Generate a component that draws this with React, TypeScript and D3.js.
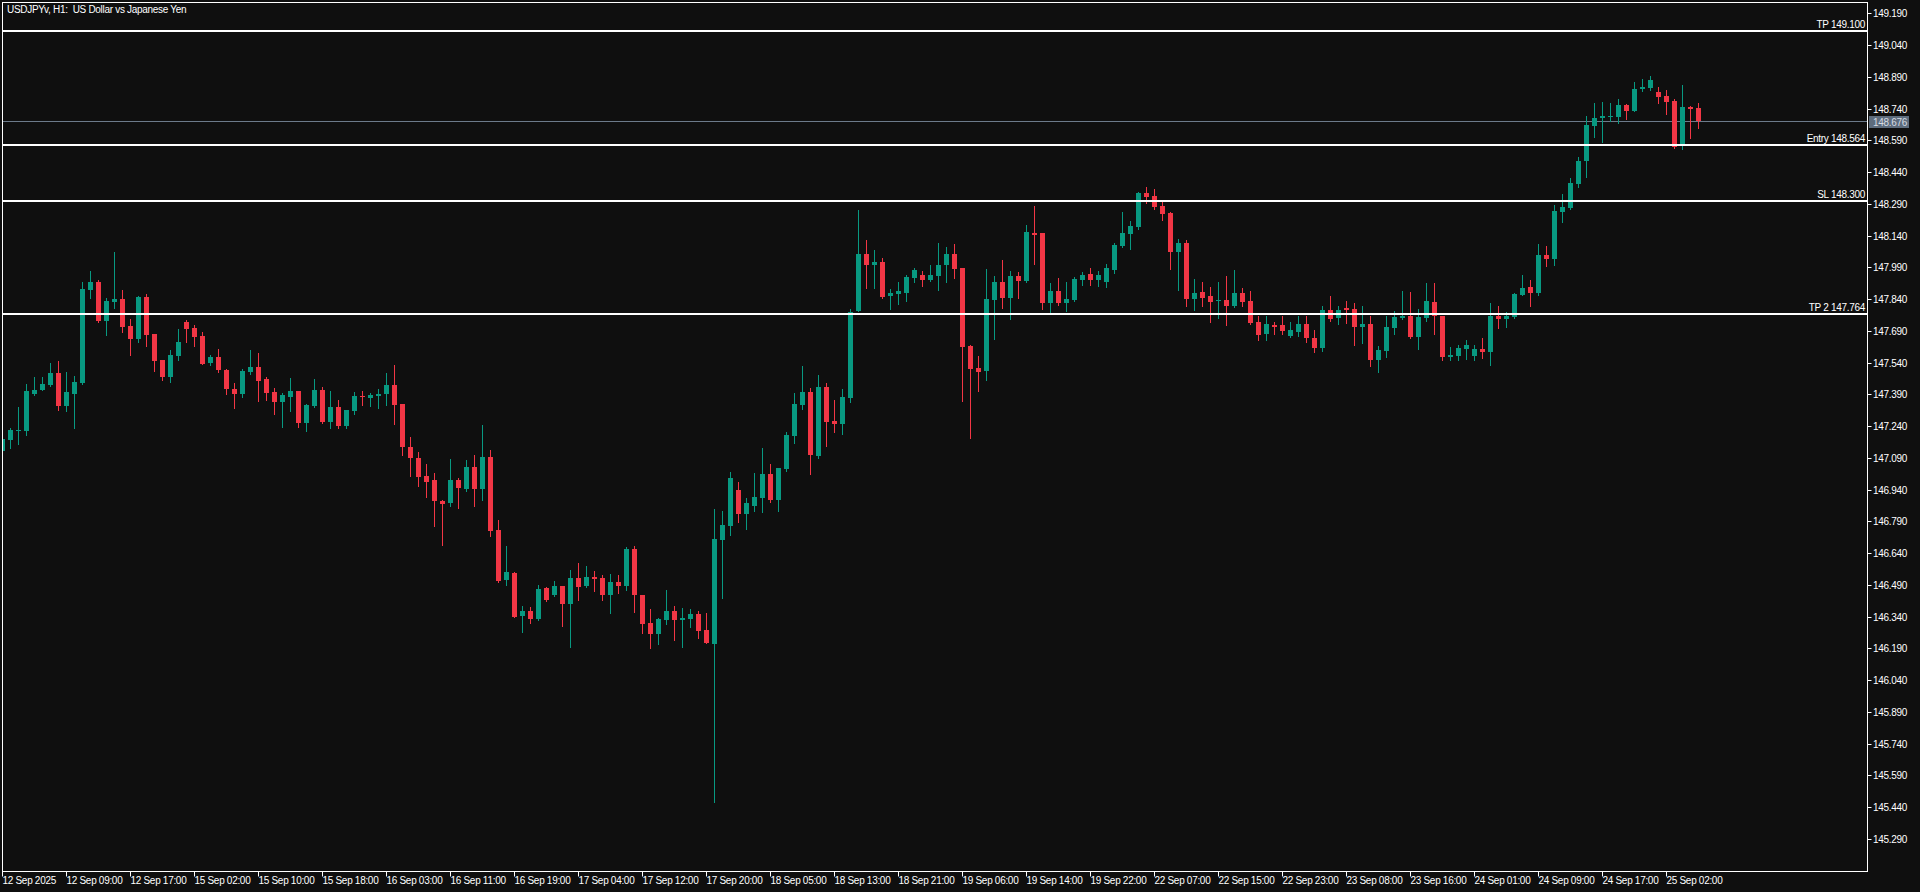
import * as d3 from "d3";
import { useEffect } from "react";

const W = 1920;
const H = 892;

const symbolTitle = "USDJPYv, H1:\u00a0 US Dollar vs Japanese Yen";

// hourly bars, [open, high, low, close]
const candles = [
  [147.117, 147.193, 147.112, 147.174], [147.169, 147.226, 147.131, 147.216], [147.212, 147.325, 147.150, 147.216], [147.212, 147.434, 147.193, 147.401],
  [147.387, 147.467, 147.382, 147.406], [147.406, 147.467, 147.404, 147.434], [147.429, 147.533, 147.427, 147.486], [147.486, 147.543, 147.311, 147.330],
  [147.330, 147.491, 147.306, 147.396], [147.387, 147.472, 147.226, 147.444], [147.439, 147.916, 147.434, 147.883], [147.878, 147.968, 147.840, 147.916],
  [147.916, 147.925, 147.727, 147.732], [147.732, 147.840, 147.666, 147.826], [147.822, 148.057, 147.793, 147.836], [147.836, 147.878, 147.680, 147.704],
  [147.708, 147.741, 147.571, 147.647], [147.647, 147.850, 147.633, 147.845], [147.845, 147.859, 147.614, 147.666], [147.670, 147.672, 147.495, 147.543],
  [147.548, 147.550, 147.453, 147.467], [147.467, 147.595, 147.444, 147.571], [147.567, 147.694, 147.548, 147.633], [147.727, 147.736, 147.633, 147.694],
  [147.699, 147.713, 147.614, 147.656], [147.661, 147.680, 147.527, 147.529], [147.533, 147.571, 147.524, 147.562], [147.562, 147.600, 147.491, 147.500],
  [147.500, 147.505, 147.387, 147.411], [147.411, 147.439, 147.320, 147.387], [147.387, 147.505, 147.373, 147.495], [147.491, 147.595, 147.481, 147.514],
  [147.514, 147.581, 147.353, 147.448], [147.458, 147.467, 147.358, 147.392], [147.396, 147.415, 147.292, 147.349], [147.349, 147.392, 147.231, 147.382],
  [147.373, 147.462, 147.306, 147.401], [147.401, 147.403, 147.231, 147.249], [147.249, 147.339, 147.212, 147.334], [147.330, 147.458, 147.328, 147.406],
  [147.406, 147.420, 147.249, 147.254], [147.254, 147.401, 147.226, 147.325], [147.325, 147.358, 147.226, 147.235], [147.235, 147.313, 147.226, 147.311],
  [147.306, 147.396, 147.292, 147.377], [147.377, 147.401, 147.334, 147.373], [147.368, 147.392, 147.330, 147.382], [147.377, 147.411, 147.320, 147.387],
  [147.387, 147.486, 147.334, 147.429], [147.429, 147.524, 147.245, 147.334], [147.339, 147.341, 147.098, 147.136], [147.136, 147.183, 146.999, 147.084],
  [147.084, 147.112, 146.952, 146.994], [146.999, 147.056, 146.900, 146.971], [146.980, 147.013, 146.763, 146.881], [146.881, 146.886, 146.673, 146.867],
  [146.872, 147.079, 146.858, 146.980], [146.980, 146.990, 146.848, 146.942], [146.938, 147.075, 146.928, 147.042], [147.042, 147.098, 146.858, 146.938],
  [146.938, 147.240, 146.886, 147.089], [147.089, 147.122, 146.716, 146.740], [146.744, 146.791, 146.501, 146.503], [146.508, 146.669, 146.484, 146.546],
  [146.541, 146.546, 146.332, 146.334], [146.338, 146.386, 146.263, 146.362], [146.362, 146.381, 146.305, 146.324], [146.324, 146.484, 146.322, 146.466],
  [146.470, 146.475, 146.409, 146.414], [146.437, 146.503, 146.435, 146.480], [146.480, 146.482, 146.291, 146.395], [146.395, 146.555, 146.192, 146.518],
  [146.518, 146.588, 146.414, 146.475], [146.480, 146.574, 146.475, 146.522], [146.522, 146.551, 146.456, 146.513], [146.518, 146.532, 146.414, 146.437],
  [146.437, 146.537, 146.352, 146.499], [146.499, 146.532, 146.447, 146.480], [146.480, 146.664, 146.461, 146.655], [146.655, 146.669, 146.357, 146.437],
  [146.437, 146.440, 146.258, 146.300], [146.305, 146.371, 146.187, 146.253], [146.253, 146.329, 146.206, 146.324], [146.319, 146.461, 146.300, 146.362],
  [146.362, 146.386, 146.225, 146.319], [146.319, 146.376, 146.192, 146.329], [146.324, 146.371, 146.286, 146.348], [146.348, 146.362, 146.234, 146.267],
  [146.272, 146.352, 146.209, 146.211], [146.206, 146.844, 145.460, 146.702], [146.697, 146.834, 146.423, 146.768], [146.763, 147.018, 146.721, 146.990],
  [146.933, 146.971, 146.782, 146.820], [146.820, 146.895, 146.749, 146.872], [146.858, 147.013, 146.834, 146.900], [146.895, 147.131, 146.829, 147.009],
  [147.009, 147.056, 146.877, 146.886], [146.886, 147.040, 146.834, 147.037], [147.032, 147.207, 147.023, 147.193], [147.188, 147.392, 147.155, 147.339],
  [147.334, 147.519, 147.316, 147.396], [147.396, 147.415, 147.009, 147.098], [147.094, 147.477, 147.084, 147.420], [147.420, 147.439, 147.141, 147.254],
  [147.259, 147.358, 147.207, 147.245], [147.245, 147.411, 147.198, 147.373], [147.368, 147.788, 147.349, 147.774], [147.779, 148.256, 147.777, 148.048],
  [148.048, 148.114, 147.887, 147.996], [147.996, 148.067, 147.887, 148.010], [148.010, 148.029, 147.840, 147.845], [147.850, 147.883, 147.788, 147.864],
  [147.859, 147.916, 147.812, 147.873], [147.864, 147.949, 147.826, 147.940], [147.935, 147.982, 147.916, 147.973], [147.949, 147.968, 147.897, 147.925],
  [147.925, 147.996, 147.921, 147.949], [147.944, 148.100, 147.878, 147.996], [147.996, 148.081, 147.916, 148.048], [148.048, 148.095, 147.935, 147.977],
  [147.982, 147.984, 147.353, 147.609], [147.614, 147.619, 147.179, 147.505], [147.510, 147.567, 147.401, 147.491], [147.495, 147.977, 147.453, 147.836],
  [147.831, 147.944, 147.647, 147.916], [147.916, 148.020, 147.793, 147.840], [147.840, 147.968, 147.741, 147.944], [147.944, 147.963, 147.840, 147.921],
  [147.921, 148.185, 147.916, 148.152], [148.147, 148.275, 148.001, 148.138], [148.147, 148.150, 147.788, 147.817], [147.817, 147.911, 147.774, 147.873],
  [147.873, 147.935, 147.807, 147.817], [147.817, 147.916, 147.779, 147.836], [147.831, 147.940, 147.826, 147.930], [147.925, 147.963, 147.902, 147.949],
  [147.954, 147.982, 147.902, 147.925], [147.925, 147.968, 147.897, 147.949], [147.916, 148.001, 147.892, 147.982], [147.973, 148.100, 147.959, 148.090],
  [148.086, 148.246, 148.084, 148.147], [148.142, 148.204, 148.071, 148.180], [148.175, 148.341, 148.166, 148.336], [148.336, 148.365, 148.289, 148.317],
  [148.322, 148.355, 148.260, 148.270], [148.275, 148.298, 148.209, 148.237], [148.242, 148.246, 147.977, 148.057], [148.057, 148.119, 147.878, 148.100],
  [148.100, 148.114, 147.803, 147.836], [147.836, 147.930, 147.784, 147.864], [147.869, 147.916, 147.803, 147.840], [147.850, 147.892, 147.727, 147.822],
  [147.826, 147.916, 147.746, 147.831], [147.831, 147.944, 147.713, 147.803], [147.803, 147.973, 147.798, 147.864], [147.864, 147.887, 147.803, 147.822],
  [147.826, 147.873, 147.718, 147.722], [147.727, 147.755, 147.642, 147.666], [147.670, 147.755, 147.642, 147.718], [147.713, 147.727, 147.670, 147.704],
  [147.713, 147.755, 147.670, 147.685], [147.661, 147.727, 147.656, 147.689], [147.680, 147.755, 147.661, 147.718], [147.718, 147.755, 147.633, 147.652],
  [147.652, 147.689, 147.585, 147.604], [147.604, 147.803, 147.590, 147.784], [147.784, 147.850, 147.732, 147.741], [147.746, 147.803, 147.718, 147.784],
  [147.793, 147.826, 147.722, 147.784], [147.788, 147.817, 147.619, 147.704], [147.704, 147.803, 147.628, 147.718], [147.718, 147.755, 147.519, 147.548],
  [147.548, 147.614, 147.491, 147.595], [147.590, 147.755, 147.562, 147.704], [147.699, 147.779, 147.670, 147.751], [147.746, 147.873, 147.741, 147.755],
  [147.755, 147.869, 147.652, 147.656], [147.656, 147.788, 147.600, 147.751], [147.746, 147.911, 147.732, 147.826], [147.822, 147.911, 147.670, 147.755],
  [147.755, 147.758, 147.548, 147.562], [147.562, 147.609, 147.548, 147.571], [147.567, 147.619, 147.548, 147.604], [147.600, 147.642, 147.552, 147.619],
  [147.567, 147.619, 147.548, 147.600], [147.600, 147.652, 147.557, 147.585], [147.585, 147.817, 147.524, 147.755], [147.755, 147.803, 147.699, 147.741],
  [147.741, 147.774, 147.704, 147.755], [147.751, 147.864, 147.746, 147.859], [147.855, 147.949, 147.853, 147.887], [147.892, 147.925, 147.803, 147.864],
  [147.864, 148.095, 147.855, 148.043], [148.043, 148.086, 147.992, 148.024], [148.024, 148.280, 147.996, 148.251], [148.246, 148.332, 148.199, 148.270],
  [148.265, 148.407, 148.263, 148.383], [148.379, 148.506, 148.365, 148.488], [148.488, 148.700, 148.412, 148.658], [148.653, 148.762, 148.601, 148.691],
  [148.691, 148.766, 148.577, 148.700], [148.696, 148.762, 148.677, 148.700], [148.696, 148.780, 148.667, 148.752], [148.752, 148.755, 148.686, 148.724],
  [148.724, 148.861, 148.722, 148.828], [148.828, 148.875, 148.818, 148.837], [148.832, 148.889, 148.823, 148.870], [148.813, 148.837, 148.762, 148.790],
  [148.795, 148.823, 148.710, 148.766], [148.771, 148.780, 148.549, 148.554], [148.568, 148.847, 148.544, 148.743], [148.743, 148.747, 148.596, 148.733],
  [148.738, 148.762, 148.643, 148.676],
];

// one label every 8 bars
const timeLabels = [
  "12 Sep 2025", "12 Sep 09:00", "12 Sep 17:00", "15 Sep 02:00", "15 Sep 10:00", "15 Sep 18:00", "16 Sep 03:00",
  "16 Sep 11:00", "16 Sep 19:00", "17 Sep 04:00", "17 Sep 12:00", "17 Sep 20:00", "18 Sep 05:00", "18 Sep 13:00",
  "18 Sep 21:00", "19 Sep 06:00", "19 Sep 14:00", "19 Sep 22:00", "22 Sep 07:00", "22 Sep 15:00", "22 Sep 23:00",
  "23 Sep 08:00", "23 Sep 16:00", "24 Sep 01:00", "24 Sep 09:00", "24 Sep 17:00", "25 Sep 02:00",
];
const labelStep = 8;

const levelNames = ["TP", "Entry", "SL", "TP 2"];
const levelPrices = [149.1, 148.564, 148.3, 147.764];
const bidPrice = 148.676;

const priceTicks = [
  149.19, 149.04, 148.89, 148.74, 148.59, 148.44, 148.29, 148.14, 147.99, 147.84, 147.69, 147.54, 147.39, 147.24,
  147.09, 146.94, 146.79, 146.64, 146.49, 146.34, 146.19, 146.04, 145.89, 145.74, 145.59, 145.44, 145.29,
];

const BG = "#0f0f0f";
const UP = "#089981";
const DOWN = "#f23645";
const FONT = "'Liberation Sans', Arial, sans-serif";

export default function App() {
  useEffect(() => {
    document.body.style.margin = "0";
    document.body.style.background = BG;
  }, []);

  const left = 2.5, top = 2.5, right = 1867.5, bottom = 871.5;

  const x = d3.scaleLinear().domain([0, 1]).range([2.5, 10.5]);
  const y = d3.scaleLinear().domain([145.134, 149.239]).range([871, 2]);
  const fmt = d3.format(".3f");

  const txt = { fontFamily: FONT, fontSize: 10, letterSpacing: "-0.3px" } as const;

  return (
    <svg width={W} height={H} style={{ display: "block", position: "absolute", left: 0, top: 0 }}>
      <defs>
        <clipPath id="plot">
          <rect x={3} y={3} width={right - 3.5} height={bottom - 3.5} />
        </clipPath>
      </defs>
      <rect width={W} height={H} fill={BG} />

      <g clipPath="url(#plot)">
        {/* bid line */}
        <line x1={left} x2={right} y1={Math.round(y(bidPrice)) + 0.5} y2={Math.round(y(bidPrice)) + 0.5} stroke="#6c7a8a" strokeWidth={1} />

        {candles.map((d, i) => {
          const [o, h, l, c] = d;
          const col = c >= o ? UP : DOWN;
          const cx = x(i);
          const yt = Math.round(y(Math.max(o, c)));
          const yb = Math.round(y(Math.min(o, c)));
          return (
            <g key={i}>
              <line x1={cx} x2={cx} y1={Math.round(y(h))} y2={Math.round(y(l)) + 1} stroke={col} strokeWidth={1} />
              <rect x={cx - 2.5} y={yt} width={5} height={Math.max(1, yb - yt)} fill={col} />
            </g>
          );
        })}

        {levelPrices.map((p, i) => (
          <line key={i} x1={left} x2={right} y1={Math.round(y(p))} y2={Math.round(y(p))} stroke="#ffffff" strokeWidth={2} />
        ))}
      </g>

      {levelPrices.map((p, i) => (
        <text key={i} x={1865} y={Math.round(y(p)) - 3} textAnchor="end" fill="#ffffff" style={txt}>
          {`${levelNames[i]} ${fmt(p)}`}
        </text>
      ))}

      {/* frame */}
      <rect x={left} y={top} width={right - left} height={bottom - top} fill="none" stroke="#ffffff" strokeWidth={1} />

      <text x={7} y={13} fill="#ffffff" style={txt}>{symbolTitle}</text>

      {/* price axis */}
      {priceTicks.map((v) => {
        const ty = Math.round(y(v)) + 1.5;
        return (
          <g key={v}>
            <line x1={right} x2={right + 4} y1={ty} y2={ty} stroke="#ffffff" />
            <text x={1873} y={ty + 3.5} fill="#ffffff" style={txt}>{fmt(v)}</text>
          </g>
        );
      })}

      <rect x={1869} y={Math.round(y(bidPrice)) - 5} width={40} height={12} fill="#5d6c7d" />
      <text x={1873} y={Math.round(y(bidPrice)) + 4.5} fill="#d5dbe2" style={txt}>{fmt(bidPrice)}</text>

      {/* time axis */}
      {timeLabels.map((t, k) => {
        const tx = x(k * labelStep);
        return (
          <g key={t}>
            <line x1={tx} x2={tx} y1={bottom} y2={bottom + 5} stroke="#ffffff" />
            <text x={tx} y={884} fill="#ffffff" style={txt}>{t}</text>
          </g>
        );
      })}
    </svg>
  );
}
